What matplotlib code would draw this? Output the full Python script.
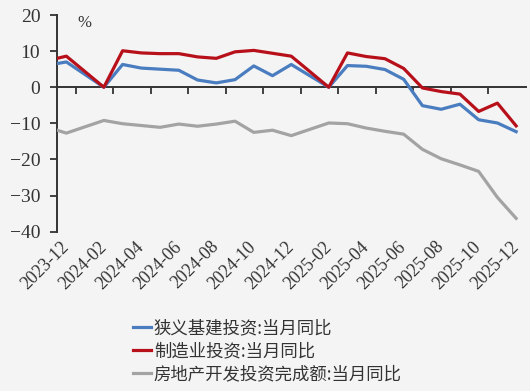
import matplotlib
matplotlib.use("Agg")
import matplotlib.pyplot as plt
from matplotlib.font_manager import FontProperties
from matplotlib.ticker import FixedLocator, NullFormatter

# ---- data (monthly, single-month YoY %) ----
months = ["2023-11", "2023-12", "2024-02", "2024-03", "2024-04", "2024-05",
          "2024-06", "2024-07", "2024-08", "2024-09", "2024-10", "2024-11",
          "2024-12", "2025-02", "2025-03", "2025-04", "2025-05", "2025-06",
          "2025-07", "2025-08", "2025-09", "2025-10", "2025-11", "2025-12"]
infra = [6.1, 7.0, 0.0, 6.3, 5.3, 5.0, 4.7, 2.0, 1.2, 2.1, 5.9, 3.2,
         6.3, 0.0, 6.0, 5.8, 4.9, 2.2, -5.1, -6.1, -4.7, -9.0, -9.9, -12.3]
manuf = [7.4, 8.6, 0.0, 10.1, 9.5, 9.3, 9.3, 8.4, 8.0, 9.8, 10.2, 9.4,
         8.6, 0.0, 9.5, 8.5, 7.9, 5.2, -0.2, -1.2, -1.9, -6.7, -4.4, -10.7]
realty = [-11.1, -12.7, -9.2, -10.1, -10.6, -11.1, -10.2, -10.8, -10.2, -9.4,
          -12.5, -11.9, -13.4, -9.9, -10.1, -11.3, -12.2, -13.0, -17.2, -19.8,
          -21.5, -23.3, -30.5, -36.3]
tick_labels = ["2023-12", "2024-02", "2024-04", "2024-06", "2024-08", "2024-10",
               "2024-12", "2025-02", "2025-04", "2025-06", "2025-08", "2025-10",
               "2025-12"]
series_names = ["狭义基建投资:当月同比", "制造业投资:当月同比", "房地产开发投资完成额:当月同比"]
colors = ["#4a7cc0", "#b8101a", "#a3a3a3"]

def month_pos(s):
    y, m = s.split("-")
    return (int(y) - 2023) * 12 + int(m) - 12

pos = [month_pos(m) for m in months]
label_pos = [month_pos(m) for m in tick_labels]

bg = "#f4f4f4"
W, H = 530, 391
fig = plt.figure(figsize=(W / 100, H / 100), dpi=100, facecolor=bg)
ax = fig.add_axes([57 / W, 1 - 231.7 / H, (525.5 - 57) / W, (231.7 - 15) / H])
ax.set_facecolor(bg)

serif = "Liberation Serif"
axis_color = "#333333"

lines = []
for vals, c in zip([infra, manuf, realty], colors):
    ln, = ax.plot(pos, vals, color=c, lw=2.3, solid_joinstyle="round", zorder=3)
    lines.append(ln)

ax.set_xlim(-0.5, 24.5)
ax.set_ylim(-40, 20)

for s in ["top", "right"]:
    ax.spines[s].set_visible(False)
ax.spines["left"].set_color(axis_color)
ax.spines["left"].set_linewidth(1.4)
ax.spines["bottom"].set_position(("data", 0))
ax.spines["bottom"].set_color(axis_color)
ax.spines["bottom"].set_linewidth(1.4)
ax.spines["bottom"].set_zorder(2)

ax.set_yticks([-40, -30, -20, -10, 0, 10, 20])
ax.tick_params(axis="y", direction="out", length=5, width=1.3, color=axis_color,
               pad=7, labelsize=14, labelcolor=axis_color)
for t in ax.get_yticklabels():
    t.set_fontfamily(serif)

boundaries = [p - 1.5 for p in label_pos[1:]]
ax.xaxis.set_major_locator(FixedLocator(boundaries))
ax.xaxis.set_major_formatter(NullFormatter())
ax.tick_params(axis="x", direction="out", length=5, width=1.3, color=axis_color)

sec = ax.secondary_xaxis("bottom")
sec.spines["bottom"].set_visible(False)
sec.set_xticks(label_pos)
sec.set_xticklabels(tick_labels, rotation=45, ha="right", va="center",
                    rotation_mode="anchor", fontfamily=serif, fontsize=13,
                    color=axis_color)
sec.tick_params(length=0, pad=9)

fig.text(84 / W, 1 - 23 / H, "%", ha="center", va="center", fontsize=12,
         fontfamily=serif, color=axis_color)

leg = fig.legend(lines, series_names, loc="upper left",
                 bbox_to_anchor=(133 / W, 1 - 319 / H), frameon=False,
                 prop=FontProperties(family=["Noto Sans CJK SC", "DejaVu Sans"], size=12.5),
                 handlelength=1.05, handletextpad=0.15, labelspacing=0.3,
                 borderpad=0, borderaxespad=0)
for t in leg.get_texts():
    t.set_color(axis_color)

fig.savefig("out.png", dpi=100, facecolor=bg)
